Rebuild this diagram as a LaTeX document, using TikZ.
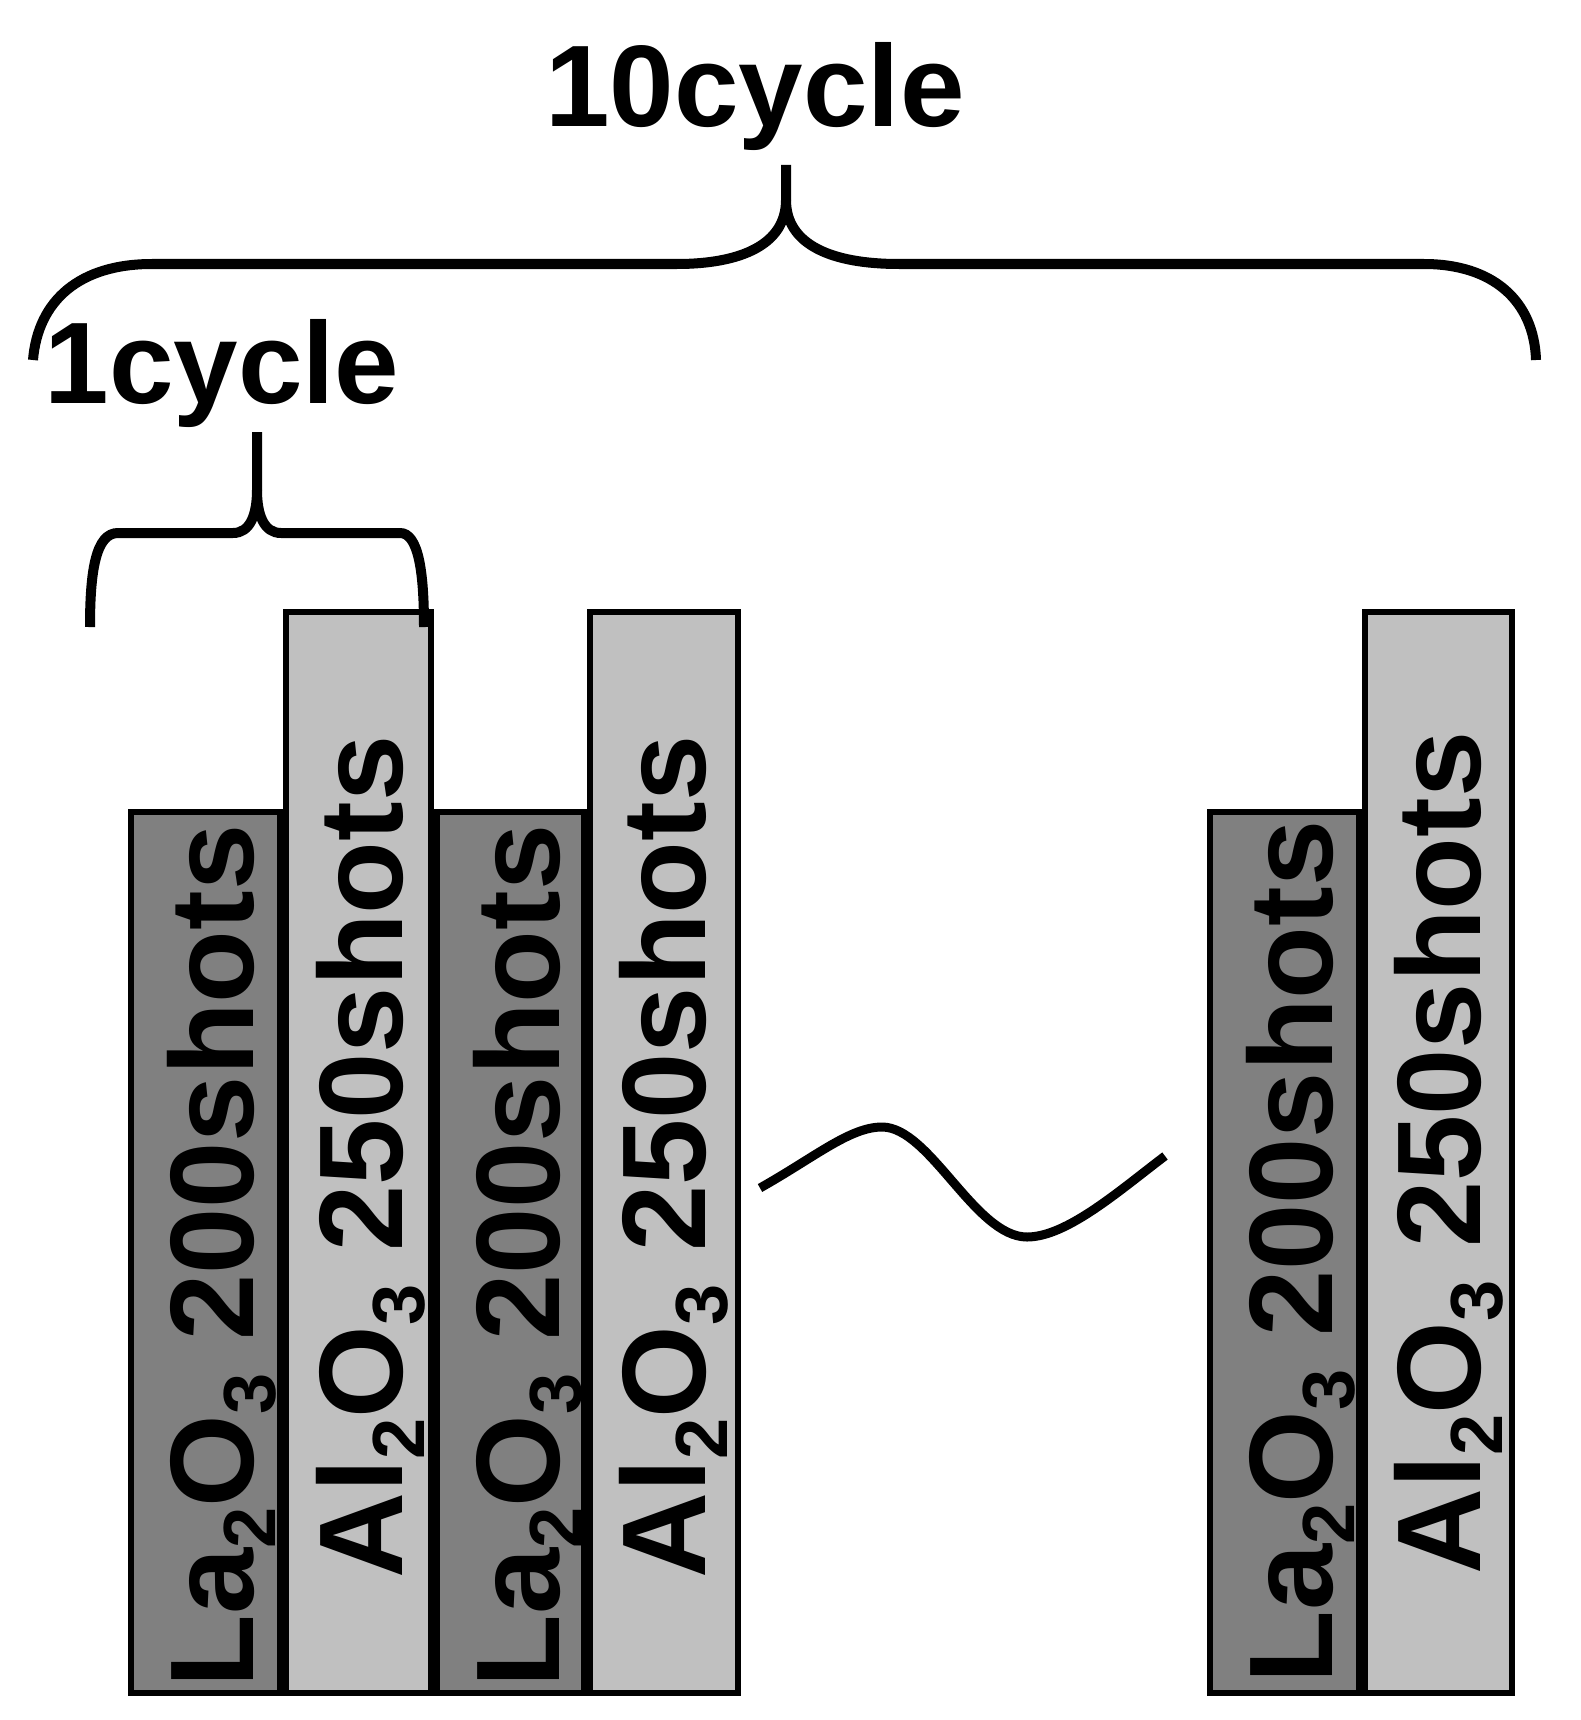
\documentclass[tikz,border=0pt]{standalone}
\usepackage{fontspec}
\setmainfont{Liberation Sans}
\definecolor{dkgray}{HTML}{808080}
\definecolor{ltgray}{HTML}{C0C0C0}
\newcommand\subz[1]{\raisebox{-22pt}{\fontsize{74}{74}\selectfont #1}}
\begin{document}
\begin{tikzpicture}[x=1pt,y=-1pt,
  darkbox/.style={draw=black,line width=6pt,fill=dkgray},
  lightbox/.style={draw=black,line width=6pt,fill=ltgray},
  boxtext/.style={rotate=90,anchor=base,inner sep=0pt,font=\fontsize{119}{119}\selectfont\bfseries},
  cyctext/.style={anchor=base,inner sep=0pt,font=\fontsize{116}{116}\selectfont\bfseries},
  brace/.style={draw=black,line width=10pt},
  wave/.style={draw=black,line width=9pt}]
\useasboundingbox (0,0) rectangle (1580,1720);
% boxes
\draw[darkbox]  (131,812) rectangle (280,1693);
\draw[lightbox] (286,612) rectangle (431,1693);
\draw[darkbox]  (437,812) rectangle (584,1693);
\draw[lightbox] (590,612) rectangle (738,1693);
\draw[darkbox]  (1210,812) rectangle (1359,1693);
\draw[lightbox] (1365,612) rectangle (1512,1693);
% box texts
\node[boxtext] (t1) at (253,1256) {La\subz{2}O\subz{3} 200shots};
\node[boxtext] (t2) at (402,1157) {Al\subz{2}O\subz{3} 250shots};
\node[boxtext] (t3) at (559,1256) {La\subz{2}O\subz{3} 200shots};
\node[boxtext] (t4) at (705,1157) {Al\subz{2}O\subz{3} 250shots};
\node[boxtext] (t5) at (1332,1252) {La\subz{2}O\subz{3} 200shots};
\node[boxtext] (t6) at (1480,1153) {Al\subz{2}O\subz{3} 250shots};
% labels
\node[cyctext] (ten) at (755,127) {10cycle};
\node[cyctext] (one) at (222,403) {1cycle};
% big brace
\draw[brace] (33,360) .. controls (38,300) and (80,264) .. (152,264)
  -- (677,264) .. controls (740,264) and (786,245) .. (786,200) -- (786,165);
\draw[brace] (786,200) .. controls (786,245) and (832,264) .. (899,264)
  -- (1424,264) .. controls (1492,264) and (1534,300) .. (1536,360);
% small brace
\draw[brace] (90,627) .. controls (90,570) and (96,533) .. (118,533)
  -- (233,533) .. controls (250,533) and (257,515) .. (257,490) -- (257,432);
\draw[brace] (257,490) .. controls (257,515) and (264,533) .. (281,533)
  -- (400,533) .. controls (418,533) and (424,570) .. (424,627);
% wave
\draw[wave] (760,1188) .. controls (815,1157) and (850,1127) .. (882,1127)
  .. controls (930,1127) and (975,1237) .. (1027,1237)
  .. controls (1067,1237) and (1120,1190) .. (1165,1156);
\end{tikzpicture}
\end{document}
